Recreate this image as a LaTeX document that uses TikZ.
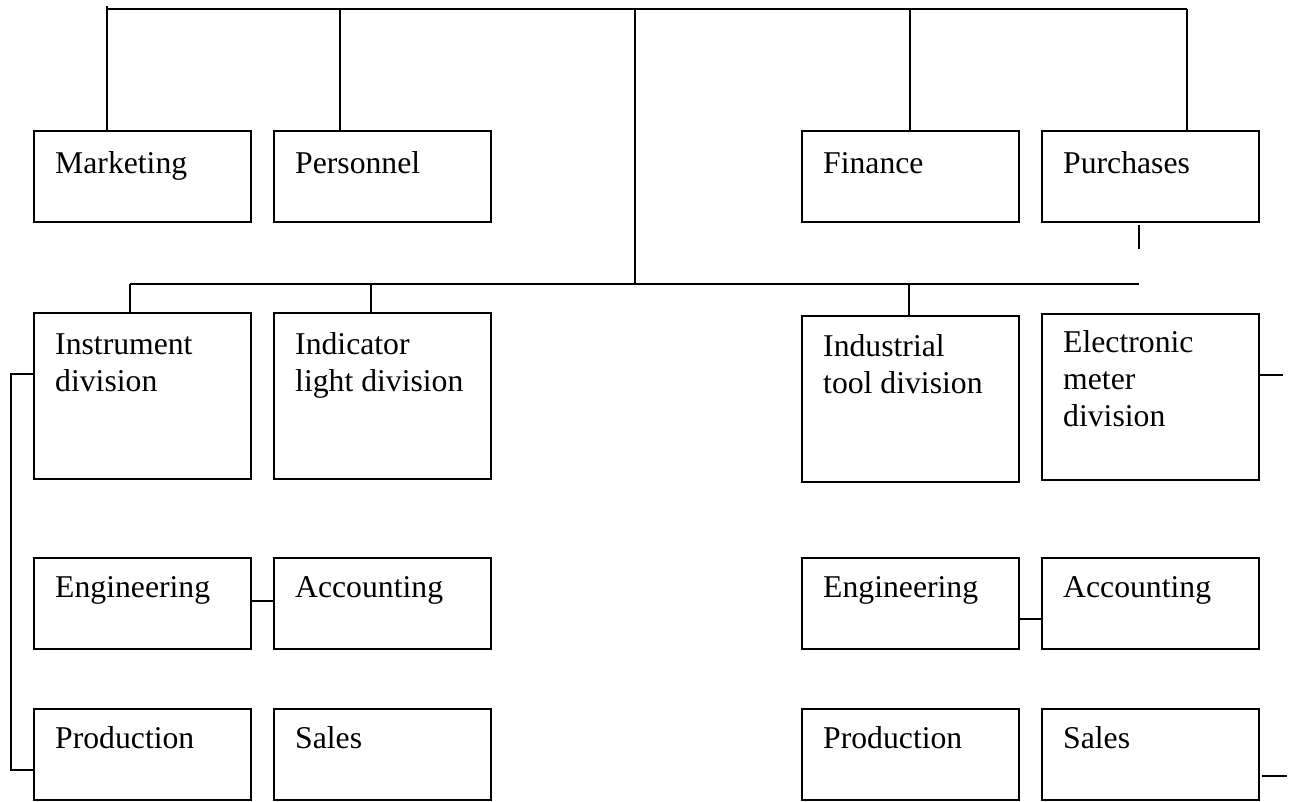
\documentclass[tikz,border=0pt]{standalone}
\usepackage{fontspec}
\setmainfont{Liberation Serif}
\begin{document}
\begin{tikzpicture}[x=1pt,y=-1pt,
  unitbox/.style={draw, line width=2pt, inner sep=0pt, outer sep=0pt,
    anchor=north west, minimum width=217pt},
  short/.style={unitbox, minimum height=91pt},
  tall/.style={unitbox, minimum height=166pt},
  lbl/.style={anchor=base west, align=left, inner sep=0pt,
    font=\fontsize{31.7}{37}\selectfont},
  wire/.style={line width=2pt}]
\useasboundingbox (0,0) rectangle (1290,801);

% staff departments
\node[short] (mkt) at (34,131) {};
\node[short] (per) at (274,131) {};
\node[short] (fin) at (802,131) {};
\node[short] (pur) at (1042,131) {};

% divisions
\node[tall] (ins) at (34,313) {};
\node[tall] (ind) at (274,313) {};
\node[tall] (itd) at (802,316) {};
\node[tall] (emd) at (1042,314) {};

% functional units
\node[short] (eng1) at (34,558) {};
\node[short] (acc1) at (274,558) {};
\node[short] (eng2) at (802,558) {};
\node[short] (acc2) at (1042,558) {};
\node[short] (pro1) at (34,709) {};
\node[short] (sal1) at (274,709) {};
\node[short] (pro2) at (802,709) {};
\node[short] (sal2) at (1042,709) {};

% labels (the base anchor of a multi-line label is its last baseline)
\node[lbl] (tmkt) at ([xshift=21pt,yshift=-42pt]mkt.north west) {Marketing};
\node[lbl] (tper) at ([xshift=21pt,yshift=-42pt]per.north west) {Personnel};
\node[lbl] (tfin) at ([xshift=21pt,yshift=-42pt]fin.north west) {Finance};
\node[lbl] (tpur) at ([xshift=21pt,yshift=-42pt]pur.north west) {Purchases};
\node[lbl] (tins) at ([xshift=21pt,yshift=-78pt]ins.north west) {Instrument\\division};
\node[lbl] (tind) at ([xshift=21pt,yshift=-78pt]ind.north west) {Indicator\\light division};
\node[lbl] (titd) at ([xshift=21pt,yshift=-77pt]itd.north west) {Industrial\\tool division};
\node[lbl] (temd) at ([xshift=21pt,yshift=-112pt]emd.north west) {Electronic\\meter\\division};
\node[lbl] (teng1) at ([xshift=21pt,yshift=-39pt]eng1.north west) {Engineering};
\node[lbl] (tacc1) at ([xshift=21pt,yshift=-39pt]acc1.north west) {Accounting};
\node[lbl] (teng2) at ([xshift=21pt,yshift=-39pt]eng2.north west) {Engineering};
\node[lbl] (tacc2) at ([xshift=21pt,yshift=-39pt]acc2.north west) {Accounting};
\node[lbl] (tpro1) at ([xshift=21pt,yshift=-39pt]pro1.north west) {Production};
\node[lbl] (tsal1) at ([xshift=21pt,yshift=-39pt]sal1.north west) {Sales};
\node[lbl] (tpro2) at ([xshift=21pt,yshift=-39pt]pro2.north west) {Production};
\node[lbl] (tsal2) at ([xshift=21pt,yshift=-39pt]sal2.north west) {Sales};

% bus points
\coordinate (tL) at (107,8.5);
\coordinate (tR) at (1187,8.5);
\coordinate (tC) at (635,8.5);
\coordinate (mC) at (635,284);
\coordinate (mL) at (130,284);
\coordinate (mR) at (1139,284);

% top bus and drops to staff departments
\draw[wire] (tL) -- (tR);
\draw[wire] ([yshift=3pt]tL) -- (tL |- mkt.north);
\draw[wire] ([xshift=66pt]per.north west) -- ([xshift=66pt]per.north west |- tL);
\draw[wire] ([xshift=108pt]fin.north west) -- ([xshift=108pt]fin.north west |- tL);
\draw[wire] (tR) -- (tR |- pur.north);
\draw[wire] ([xshift=97pt,yshift=-3pt]pur.south west) -- ++(0,24);

% trunk and division bus
\draw[wire] (tC) -- (mC);
\draw[wire] (mL) -- (mR);
\draw[wire] (mL) -- (mL |- ins.north);
\draw[wire] ([xshift=97pt]ind.north west) -- ([xshift=97pt]ind.north west |- mL);
\draw[wire] ([xshift=107pt]itd.north west) -- ([xshift=107pt]itd.north west |- mL);

% side links
\draw[wire] ([yshift=-61pt]ins.north west) -- ++(-23,0) |- ([yshift=-61pt]pro1.north west);
\draw[wire] ([yshift=-43pt]eng1.north east) -- ([yshift=-43pt]acc1.north west);
\draw[wire] ([yshift=-61pt]eng2.north east) -- ([yshift=-61pt]acc2.north west);
\draw[wire] ([yshift=-61pt]emd.north east) -- ++(24,0);
\draw[wire] ([xshift=3pt,yshift=24pt]sal2.south east) -- ++(25,0);
\end{tikzpicture}
\end{document}
